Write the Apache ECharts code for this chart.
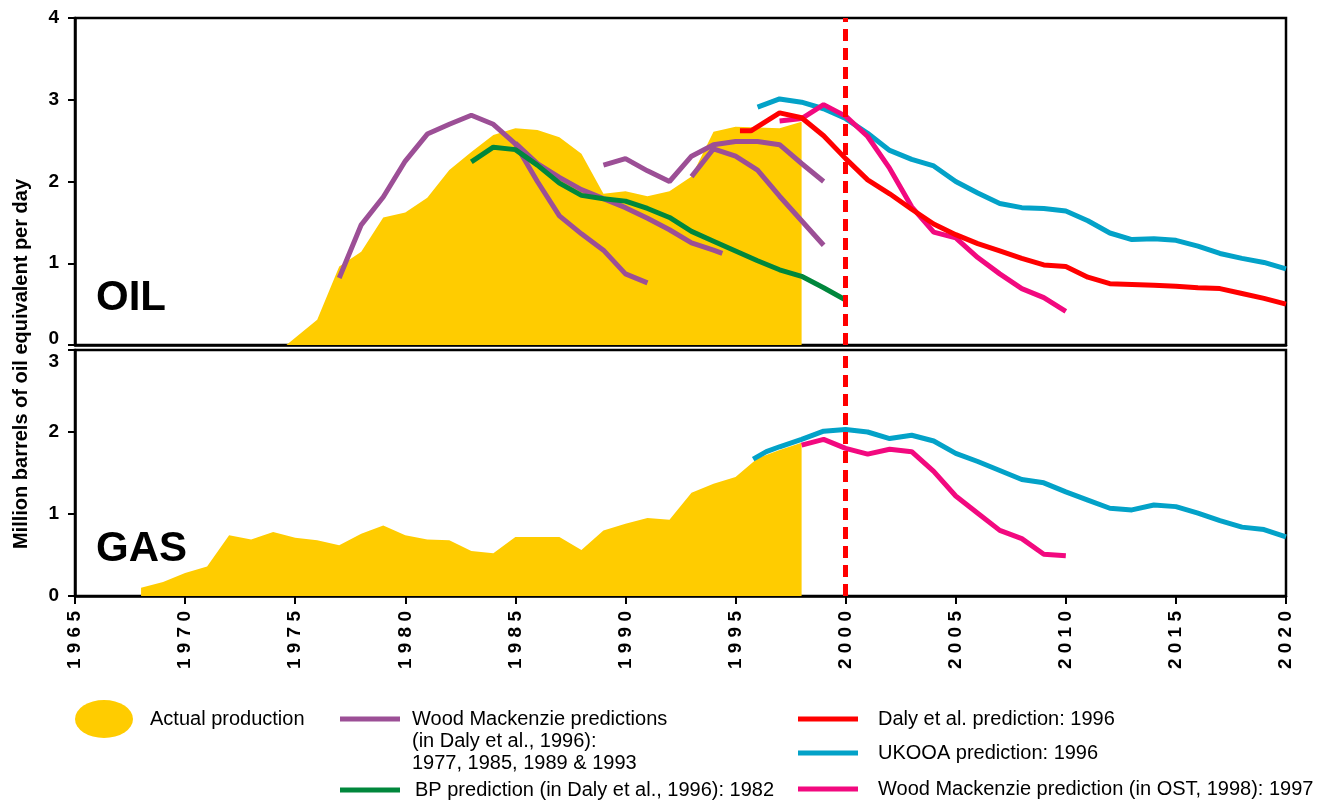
<!DOCTYPE html>
<html>
<head>
<meta charset="utf-8">
<script src="https://cdn.jsdelivr.net/npm/echarts@6/dist/echarts.min.js"></script>
<style>
  html, body { margin: 0; padding: 0; background: #fff; }
  #chart { width: 1330px; height: 802px; }
</style>
</head>
<body>
<div id="chart"></div>
<script>
// North Sea oil & gas production vs. forecasts (million boe/day)

const yearTicks = [1965, 2020, 5];

// OIL panel, [year, value]
const oilActual = [[1974.6, 0], [1976, 0.31], [1977, 0.96], [1978, 1.14], [1979, 1.56], [1980, 1.62], [1981, 1.8],
	[1982, 2.14], [1983, 2.36], [1984, 2.57], [1985, 2.65], [1986, 2.63], [1987, 2.54], [1988, 2.34], [1989, 1.85],
	[1990, 1.88], [1991, 1.82], [1992, 1.88], [1993, 2.06], [1994, 2.61], [1995, 2.67], [1996, 2.66], [1997, 2.65], [1998, 2.73]];
const wm1977 = [[1977, 0.82], [1978, 1.47], [1979, 1.81], [1980, 2.25], [1981, 2.58], [1982, 2.7], [1983, 2.81],
	[1984, 2.7], [1985, 2.46], [1986, 2.0], [1987, 1.58], [1988, 1.36], [1989, 1.16], [1990, 0.87], [1991, 0.76]];
const wm1985 = [[1985, 2.47], [1986, 2.22], [1987, 2.05], [1988, 1.9], [1989, 1.79], [1990, 1.68], [1991, 1.55],
	[1992, 1.41], [1993, 1.25], [1994, 1.16], [1994.4, 1.12]];
const wm1989 = [[1989, 2.2], [1990, 2.28], [1991, 2.13], [1992, 2.0], [1993, 2.31], [1994, 2.45], [1995, 2.49],
	[1996, 2.49], [1997, 2.45], [1998, 2.22], [1999, 2.0]];
const wm1993 = [[1993, 2.06], [1994, 2.4], [1995, 2.31], [1996, 2.14], [1997, 1.82], [1998, 1.52], [1999, 1.22]];
const bp1982 = [[1983, 2.24], [1984, 2.42], [1985, 2.39], [1986, 2.2], [1987, 1.98], [1988, 1.83], [1989, 1.79],
	[1990, 1.76], [1991, 1.67], [1992, 1.56], [1993, 1.39], [1994, 1.27], [1995, 1.15], [1996, 1.03], [1997, 0.92],
	[1998, 0.84], [1999, 0.7], [2000, 0.55]];
const daly1996 = [[1995.2, 2.62], [1995.7, 2.62], [1997, 2.84], [1998, 2.78], [1999, 2.56], [2000, 2.28], [2001, 2.02],
	[2002, 1.85], [2003, 1.66], [2004, 1.48], [2005, 1.35], [2006, 1.24], [2007, 1.15], [2008, 1.06], [2009, 0.98],
	[2010, 0.96], [2011, 0.83], [2012, 0.75], [2013, 0.74], [2014, 0.73], [2015, 0.72], [2016, 0.7], [2017, 0.69],
	[2018, 0.63], [2019, 0.57], [2020, 0.5]];
const ukooaOil = [[1996, 2.91], [1997, 3.01], [1998, 2.97], [1999, 2.89], [2000, 2.77], [2001, 2.59], [2002, 2.38],
	[2003, 2.27], [2004, 2.19], [2005, 2.0], [2006, 1.86], [2007, 1.73], [2008, 1.68], [2009, 1.67], [2010, 1.64],
	[2011, 1.52], [2012, 1.37], [2013, 1.29], [2014, 1.3], [2015, 1.28], [2016, 1.21], [2017, 1.12], [2018, 1.06],
	[2019, 1.01], [2020, 0.93]];
const wmOstOil = [[1997, 2.74], [1998, 2.77], [1999, 2.94], [2000, 2.8], [2001, 2.55], [2002, 2.16], [2003, 1.69],
	[2004, 1.38], [2005, 1.31], [2006, 1.07], [2007, 0.87], [2008, 0.69], [2009, 0.58], [2010, 0.41]];

// GAS panel
const gasActual = [[1968, 0.1], [1969, 0.17], [1970, 0.28], [1971, 0.36], [1972, 0.74], [1973, 0.69], [1974, 0.78],
	[1975, 0.71], [1976, 0.68], [1977, 0.62], [1978, 0.76], [1979, 0.86], [1980, 0.74], [1981, 0.69], [1982, 0.68],
	[1983, 0.55], [1984, 0.52], [1985, 0.72], [1986, 0.72], [1987, 0.72], [1988, 0.56], [1989, 0.8], [1990, 0.88],
	[1991, 0.95], [1992, 0.93], [1993, 1.26], [1994, 1.37], [1995, 1.45], [1996, 1.68], [1997, 1.78], [1998, 1.87]];
const ukooaGas = [[1995.8, 1.67], [1996.4, 1.76], [1997, 1.82], [1998, 1.91], [1999, 2.01], [2000, 2.03], [2001, 2.0],
	[2002, 1.92], [2003, 1.96], [2004, 1.89], [2005, 1.74], [2006, 1.64], [2007, 1.53], [2008, 1.42], [2009, 1.38],
	[2010, 1.27], [2011, 1.17], [2012, 1.07], [2013, 1.05], [2014, 1.11], [2015, 1.09], [2016, 1.01], [2017, 0.92],
	[2018, 0.84], [2019, 0.81], [2020, 0.72]];
const wmOstGas = [[1998, 1.84], [1999, 1.91], [2000, 1.8], [2001, 1.73], [2002, 1.79], [2003, 1.76], [2004, 1.52],
	[2005, 1.22], [2006, 1.01], [2007, 0.8], [2008, 0.7], [2009, 0.51], [2010, 0.49]];

const forecastYear = 2000;

const NAMES = {
	actual: 'Actual production',
	wm: 'Wood Mackenzie predictions',
	bp: 'BP prediction (in Daly et al., 1996): 1982',
	daly: 'Daly et al. prediction: 1996',
	ukooa: 'UKOOA prediction: 1996',
	ost: 'Wood Mackenzie prediction (in OST, 1998): 1997'
};

const COLORS = {
	actual: '#FFCC00',
	wm: '#9C4F96',
	bp: '#00873C',
	daly: '#FF0000',
	ukooa: '#03A2C8',
	ost: '#F2097F'
};

const FONT = '"Liberation Sans", Arial, sans-serif';

const tickFont = { fontFamily: FONT, fontSize: 19, fontWeight: 'bold', color: '#000' };
const legendFont = { fontFamily: FONT, fontSize: 20, color: '#000', lineHeight: 22 };

function area(name, data, grid) {
	return {
		name: name, type: 'line', data: data, xAxisIndex: grid, yAxisIndex: grid,
		color: COLORS.actual, symbol: 'none', z: 1,
		lineStyle: { width: 0 },
		areaStyle: { color: COLORS.actual, opacity: 1 }
	};
}

function line(name, key, data, grid) {
	return {
		name: name, type: 'line', data: data, xAxisIndex: grid, yAxisIndex: grid,
		color: COLORS[key], symbol: 'none', z: 3,
		lineStyle: { width: 5, color: COLORS[key] }
	};
}

function forecastMark() {
	return {
		silent: true,
		symbol: [ 'none', 'none' ],
		label: { show: false },
		lineStyle: { color: '#FF0000', width: 5, type: [ 12, 7 ] },
		data: [ { xAxis: forecastYear } ]
	};
}

const xBase = { type: 'value', min: yearTicks[0], max: yearTicks[1], interval: yearTicks[2], splitLine: { show: false } };
const axisLine = { show: true, onZero: false, lineStyle: { color: '#000', width: 2.5 } };

const series = [
	area(NAMES.actual, oilActual, 0),
	line(NAMES.wm, 'wm', wm1977, 0),
	line(NAMES.wm, 'wm', wm1985, 0),
	line(NAMES.wm, 'wm', wm1989, 0),
	line(NAMES.wm, 'wm', wm1993, 0),
	line(NAMES.bp, 'bp', bp1982, 0),
	line(NAMES.ukooa, 'ukooa', ukooaOil, 0),
	line(NAMES.ost, 'ost', wmOstOil, 0),
	line(NAMES.daly, 'daly', daly1996, 0),
	area(NAMES.actual, gasActual, 1),
	line(NAMES.ukooa, 'ukooa', ukooaGas, 1),
	line(NAMES.ost, 'ost', wmOstGas, 1)
];
series[8].markLine = forecastMark();
series[11].markLine = forecastMark();

function lineLegend(name, left, centerY, gap) {
	return {
		data: [ name ], left: left, top: centerY - 11, padding: 0,
		icon: 'rect', itemWidth: 60, itemHeight: 5, selectedMode: false,
		textStyle: Object.assign({}, legendFont, { padding: [ 0, 0, 0, gap - 5 ] })
	};
}

const option = {
	animation: false,
	backgroundColor: '#fff',
	grid: [
		{ left: 75, top: 18, width: 1211, height: 327, show: true, borderColor: '#000', borderWidth: 2.5 },
		{ left: 75, top: 350, width: 1211, height: 246, show: true, borderColor: '#000', borderWidth: 2.5 }
	],
	xAxis: [
		Object.assign({}, xBase, {
			gridIndex: 0, axisLine: axisLine, axisTick: { show: false }, axisLabel: { show: false }
		}),
		Object.assign({}, xBase, {
			gridIndex: 1, axisLine: axisLine,
			axisTick: { length: 8, lineStyle: { color: '#000', width: 2 } },
			axisLabel: Object.assign({}, tickFont, {
				rotate: 90, margin: 15,
				formatter: (v) => String(v).split('').join(' ')
			})
		})
	],
	yAxis: [
		{
			gridIndex: 0, type: 'value', min: 0, max: 4, interval: 1,
			splitLine: { show: false }, axisLine: axisLine,
			axisTick: { length: 7, lineStyle: { color: '#000', width: 2 } },
			axisLabel: Object.assign({}, tickFont, {
				margin: 16,
				formatter: (v) => (v === 0 ? '{low|0}' : String(v)),
				rich: { low: Object.assign({}, tickFont, { padding: [ 0, 0, 13, 0 ] }) }
			})
		},
		{
			gridIndex: 1, type: 'value', min: 0, max: 3, interval: 1,
			splitLine: { show: false }, axisLine: axisLine,
			axisTick: { length: 7, lineStyle: { color: '#000', width: 2 } },
			axisLabel: Object.assign({}, tickFont, {
				margin: 16,
				formatter: (v) => (v === 3 ? '{high|3}' : String(v)),
				rich: { high: Object.assign({}, tickFont, { padding: [ 24, 0, 0, 0 ] }) }
			})
		}
	],
	legend: [
		{
			data: [ NAMES.actual ], left: 75, top: 700, padding: 0, selectedMode: false,
			icon: 'path://M0,50A50,50 0 1,1 100,50A50,50 0 1,1 0,50Z', symbolKeepAspect: false,
			itemWidth: 58, itemHeight: 38,
			textStyle: Object.assign({}, legendFont, { padding: [ 0, 0, 0, 12 ] })
		},
		{
			// two blank lines on top so the swatch lines up with the first text line
			data: [ NAMES.wm ], left: 340, top: 719 - 55, padding: 0, selectedMode: false,
			icon: 'rect', itemWidth: 60, itemHeight: 5,
			formatter: () => '\n\nWood Mackenzie predictions\n(in Daly et al., 1996):\n1977, 1985, 1989 & 1993',
			textStyle: Object.assign({}, legendFont, { padding: [ 0, 0, 0, 7 ] })
		},
		lineLegend(NAMES.bp, 340, 790, 15),
		lineLegend(NAMES.daly, 798, 719, 20),
		lineLegend(NAMES.ukooa, 798, 753, 20),
		lineLegend(NAMES.ost, 798, 789, 20)
	],
	graphic: [
		{
			type: 'text', x: 21, y: 364, rotation: Math.PI / 2,
			style: {
				text: 'Million barrels of oil equivalent per day', fill: '#000',
				font: 'bold 20px ' + FONT, textAlign: 'center', textVerticalAlign: 'middle'
			}
		},
		{
			type: 'text', x: 96, y: 298,
			style: { text: 'OIL', fill: '#000', font: 'bold 42px ' + FONT, textAlign: 'left', textVerticalAlign: 'middle' }
		},
		{
			type: 'text', x: 96, y: 549,
			style: { text: 'GAS', fill: '#000', font: 'bold 42px ' + FONT, textAlign: 'left', textVerticalAlign: 'middle' }
		}
	],
	series: series
};

const myChart = echarts.init(document.getElementById('chart'));
myChart.setOption(option);
</script>
</body>
</html>
